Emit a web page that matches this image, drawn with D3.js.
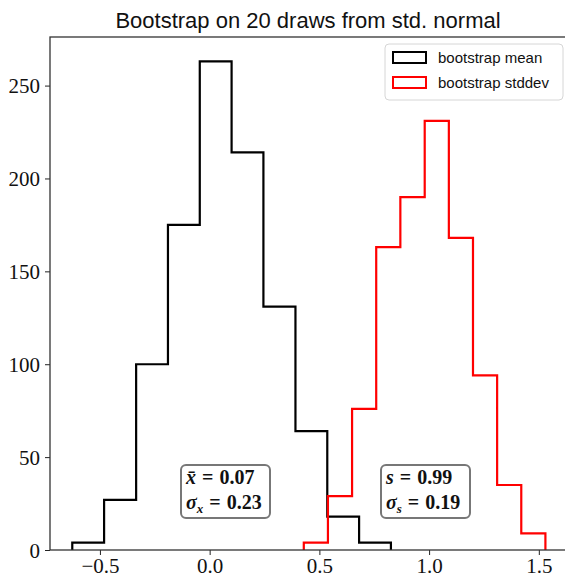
<!DOCTYPE html>
<html>
<head>
<meta charset="utf-8">
<script src="https://cdn.jsdelivr.net/npm/d3@7"></script>
<style>
  body { margin: 0; background: #fff; }
  svg { display: block; }
</style>
</head>
<body>
<div id="chart"></div>
<script>
(function() {
  var w = 565,
      h = 579;

  // histogram bin edges + counts
  var meanEdges = [-0.626, -0.481, -0.335, -0.190, -0.045, 0.100, 0.245, 0.391, 0.536, 0.681, 0.826];
  var meanCounts = [4, 27, 100, 175, 263, 214, 131, 64, 18, 4];
  var sdEdges = [0.429, 0.539, 0.649, 0.759, 0.869, 0.980, 1.090, 1.200, 1.310, 1.420, 1.530];
  var sdCounts = [4, 29, 76, 163, 190, 231, 168, 94, 35, 9];

  var xTicks = [-0.5, 0.0, 0.5, 1.0, 1.5];
  var yTicks = [0, 50, 100, 150, 200, 250];
  var seriesNames = ["bootstrap mean", "bootstrap stddev"];
  var seriesColors = ["#000000", "#ff0000"];

  var m = {left: 50, right: 569, top: 37, bottom: 550};

  var svg = d3.select("#chart")
    .append("svg")
    .attr("width", w)
    .attr("height", h);

  var x = d3.scaleLinear().domain([-0.7275, 1.6375]).range([m.left, m.right]);
  var y = d3.scaleLinear().domain([0, 276.15]).range([m.bottom, m.top]);

  // step outline like matplotlib histtype='step'
  function stepPath(edges, counts) {
    var pts = [[edges[0], 0]];
    counts.forEach(function(c, i) {
      pts.push([edges[i], c]);
      pts.push([edges[i + 1], c]);
    });
    pts.push([edges[edges.length - 1], 0]);
    return d3.line().x(function(d) { return x(d[0]); }).y(function(d) { return y(d[1]); })(pts);
  }

  svg.append("path")
    .attr("d", stepPath(meanEdges, meanCounts))
    .attr("fill", "none")
    .attr("stroke", seriesColors[0])
    .attr("stroke-width", 2.2);

  svg.append("path")
    .attr("d", stepPath(sdEdges, sdCounts))
    .attr("fill", "none")
    .attr("stroke", seriesColors[1])
    .attr("stroke-width", 2.2);

  // axes
  var xAxis = svg.append("g")
    .attr("transform", "translate(0," + m.bottom + ")")
    .call(d3.axisBottom(x).tickValues(xTicks).tickSize(5).tickPadding(4)
      .tickFormat(function(d) { return d3.format(".1f")(d).replace("-", "\u2212"); }));

  var yAxis = svg.append("g")
    .attr("transform", "translate(" + m.left + ",0)")
    .call(d3.axisLeft(y).tickValues(yTicks).tickSize(5).tickPadding(5)
      .tickFormat(d3.format("d")));

  [xAxis, yAxis].forEach(function(ax) {
    ax.select(".domain").remove();
    ax.selectAll("line").attr("stroke", "#222").attr("stroke-width", 1);
    ax.selectAll("text")
      .attr("fill", "#111")
      .style("font-family", "'Liberation Serif', 'DejaVu Serif', serif")
      .style("font-size", "21px");
  });
  xAxis.selectAll("text").attr("dy", "0.68em");
  yAxis.selectAll("text").attr("dy", "0.35em");

  // spines (right one falls outside the window)
  svg.append("rect")
    .attr("x", m.left)
    .attr("y", m.top)
    .attr("width", m.right - m.left)
    .attr("height", m.bottom - m.top)
    .attr("fill", "none")
    .attr("stroke", "#333")
    .attr("stroke-width", 1.3);

  // title
  svg.append("text")
    .attr("x", 308)
    .attr("y", 28)
    .attr("text-anchor", "middle")
    .style("font-family", "'Liberation Sans', Arial, sans-serif")
    .style("font-size", "22px")
    .attr("fill", "#111")
    .text("Bootstrap on 20 draws from std. normal");

  // legend
  var leg = svg.append("g").attr("transform", "translate(385,44)");
  leg.append("rect")
    .attr("width", 178).attr("height", 56)
    .attr("rx", 4)
    .attr("fill", "#fff")
    .attr("stroke", "#d6d6d6")
    .attr("stroke-width", 1);
  seriesNames.forEach(function(name, i) {
    leg.append("rect")
      .attr("x", 8).attr("y", 8 + i * 25)
      .attr("width", 33).attr("height", 11)
      .attr("fill", "none")
      .attr("stroke", seriesColors[i])
      .attr("stroke-width", 2);
    leg.append("text")
      .attr("x", 53).attr("y", 19 + i * 25)
      .style("font-family", "'Liberation Sans', Arial, sans-serif")
      .style("font-size", "15px")
      .attr("fill", "#111")
      .text(name);
  });

  // stat boxes
  var stats = [
    {sym: "x\u0304", val: "0.07", sym2: "\u03c3", sub2: "x", val2: "0.23", bx: 181},
    {sym: "s", val: "0.99", sym2: "\u03c3", sub2: "s", val2: "0.19", bx: 381}
  ];
  stats.forEach(function(s) {
    var g = svg.append("g").attr("transform", "translate(" + s.bx + ",465)");
    g.append("rect")
      .attr("width", 89).attr("height", 53)
      .attr("rx", 5)
      .attr("fill", "#fff")
      .attr("stroke", "#777")
      .attr("stroke-width", 2);
    var t1 = g.append("text")
      .attr("x", 5).attr("y", 19)
      .style("font-family", "'Liberation Serif', 'DejaVu Serif', serif")
      .style("font-size", "20px")
      .style("font-weight", "bold")
      .attr("fill", "#111");
    t1.append("tspan").style("font-style", "italic").text(s.sym);
    t1.append("tspan").attr("dx", 6).text("=");
    t1.append("tspan").attr("dx", 6).text(s.val);
    var t2 = g.append("text")
      .attr("x", 5).attr("y", 44)
      .style("font-family", "'Liberation Serif', 'DejaVu Serif', serif")
      .style("font-size", "20px")
      .style("font-weight", "bold")
      .attr("fill", "#111");
    t2.append("tspan").style("font-style", "italic").text(s.sym2);
    t2.append("tspan").style("font-style", "italic").style("font-size", "13px").attr("dy", 4).text(s.sub2);
    t2.append("tspan").attr("dy", -4).attr("dx", 6).text("=");
    t2.append("tspan").attr("dx", 6).text(s.val2);
  });
})();
</script>
</body>
</html>
